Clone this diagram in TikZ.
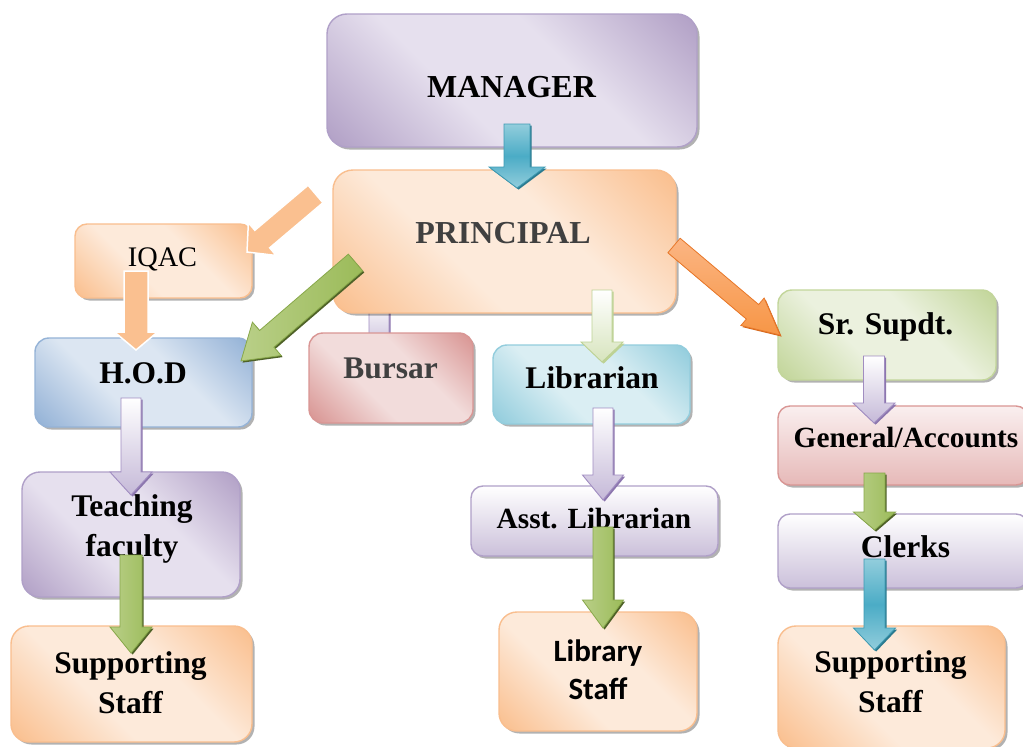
\documentclass[tikz,border=0pt]{standalone}
\usepackage{fontspec}
\setmainfont{Liberation Serif}
\newfontfamily\carlito{Carlito}
\usetikzlibrary{calc,shadows}
\pgfdeclarelayer{bg}
\pgfsetlayers{bg,main}

\definecolor{bxdark}{HTML}{B3A2C7}
\definecolor{bxlight}{HTML}{E5E0EC}
\pgfdeclarehorizontalshading[bxdark,bxlight]{diagbox}{100bp}{color(0bp)=(bxdark); color(16bp)=(bxdark); color(40bp)=(bxlight); color(60bp)=(bxlight); color(84bp)=(bxdark); color(100bp)=(bxdark)}

\definecolor{lavD}{HTML}{B3A2C7}\definecolor{lavL}{HTML}{E6E0EE}\definecolor{lavB}{HTML}{B0A0C8}
\definecolor{peaD}{HTML}{FAC090}\definecolor{peaL}{HTML}{FDEADA}\definecolor{peaB}{HTML}{F9BE8E}
\definecolor{bluD}{HTML}{95B3D7}\definecolor{bluL}{HTML}{DCE6F2}\definecolor{bluB}{HTML}{95B3D7}
\definecolor{pnkD}{HTML}{D99694}\definecolor{pnkL}{HTML}{F2DCDB}\definecolor{pnkB}{HTML}{D99694}
\definecolor{cyaD}{HTML}{93CDDD}\definecolor{cyaL}{HTML}{DAEEF3}\definecolor{cyaB}{HTML}{93CDDD}
\definecolor{grnD}{HTML}{C3D69B}\definecolor{grnL}{HTML}{EBF1DE}\definecolor{grnB}{HTML}{C3D69B}
\definecolor{genT}{HTML}{FAEFEF}\definecolor{genB}{HTML}{E6B9B8}
\definecolor{clkB}{HTML}{CBC0DA}
\definecolor{txtgray}{HTML}{404040}
\definecolor{tealL}{HTML}{92CDDC}\definecolor{tealM}{HTML}{4BACC6}\definecolor{tealB}{HTML}{3D9AB3}\definecolor{tealS}{HTML}{2B7A8F}
\definecolor{lavaB}{HTML}{A18DC1}\definecolor{lavaS}{HTML}{8C76AE}\definecolor{lavaE}{HTML}{C5B9D8}
\definecolor{graL}{HTML}{B9CF88}\definecolor{graM}{HTML}{9BBB59}\definecolor{graB}{HTML}{88A84A}\definecolor{graS}{HTML}{4F6228}
\definecolor{lorF}{HTML}{FAC090}
\definecolor{orL}{HTML}{FBB583}\definecolor{orM}{HTML}{F79646}\definecolor{orB}{HTML}{E8782A}\definecolor{orS}{HTML}{D4661A}
\definecolor{lgE}{HTML}{D7E4BD}\definecolor{lgB}{HTML}{BDD294}

% [style]{start}{tip}{half shaft}{half head}{head length}
\newcommand\blockarrow[6][]{%
  \path[#1] ($(#2)!#4!90:(#3)$)
    -- ($(#3)!#6!(#2)!#4!90:(#3)$)
    -- ($(#3)!#6!(#2)!#5!90:(#3)$)
    -- (#3)
    -- ($(#3)!#6!(#2)!#5!-90:(#3)$)
    -- ($(#3)!#6!(#2)!#4!-90:(#3)$)
    -- ($(#2)!#4!-90:(#3)$) -- cycle;}

\tikzset{
  bxbase/.style={rectangle, rounded corners=14pt, line width=1.4pt, inner sep=0pt, outer sep=0pt,
    drop shadow={shadow xshift=2.5pt, shadow yshift=-2.5pt, opacity=0.3, fill=black}},
  dbox/.style n args={3}{bxbase, draw=#3,
    /utils/exec={\colorlet{bxdark}{#1}\colorlet{bxlight}{#2}}, shading=diagbox, shading angle=45},
  vbox/.style n args={3}{bxbase, draw=#3, top color=#1, bottom color=#2},
  lbl/.style={font=\fontsize{31.5}{40}\selectfont\bfseries, align=center, inner sep=0pt},
  sl/.style={text height=21pt, text depth=7pt},
  arrshadow/.style={preaction={fill=#1, transform canvas={shift={(1.6pt,-1.6pt)}}}},
  tealar/.style={arrshadow=tealS, draw=tealB, line width=0.8pt, top color=tealL, bottom color=tealL, middle color=tealM},
  lavar/.style={arrshadow=lavaS, draw=lavaB, line width=0.9pt, top color=white, bottom color=lavaE},
  grnar/.style={arrshadow=graS, draw=graB, line width=0.8pt, left color=graL, right color=graM},
  lorar/.style={fill=lorF, draw=white, line width=1.5pt},
  orar/.style={arrshadow=orS, draw=orB, line width=0.8pt, top color=orL, bottom color=orM},
  lgar/.style={arrshadow=lgB, draw=lgB, line width=0.9pt, top color=white, bottom color=lgE},
}

\begin{document}
\begin{tikzpicture}[x=1pt,y=-1pt]
\useasboundingbox (0,0) rectangle (1023,747);

% boxes
\node[dbox={lavD}{lavL}{lavB}, rounded corners=20pt, minimum width=370pt, minimum height=133pt] (mgr) at (512,80.5) {};
\node[dbox={peaD}{peaL}{peaB}, rounded corners=20pt, minimum width=343pt, minimum height=143pt] (prin) at (504.5,241.5) {};
\node[dbox={peaD}{peaL}{peaB}, rounded corners=12pt, minimum width=177pt, minimum height=74pt] (iqac) at (163.5,261) {};
\node[dbox={bluD}{bluL}{bluB}, minimum width=217pt, minimum height=89pt] (hod) at (143.5,382.5) {};
\node[dbox={pnkD}{pnkL}{pnkB}, minimum width=164pt, minimum height=90pt] (bursar) at (391,378) {};
\node[dbox={cyaD}{cyaL}{cyaB}, minimum width=197pt, minimum height=79pt] (lib) at (591.5,384.5) {};
\node[dbox={grnD}{grnL}{grnB}, minimum width=218pt, minimum height=90pt] (supdt) at (887,335) {};
\node[vbox={genT}{genB}{pnkB}, rounded corners=12pt, minimum width=250pt, minimum height=79pt] (gen) at (903,445.5) {};
\node[vbox={white}{clkB}{lavB}, rounded corners=12pt, minimum width=250pt, minimum height=74pt] (clerks) at (903,551) {};
\node[dbox={peaD}{peaL}{peaB}, rounded corners=18pt, minimum width=227pt, minimum height=122pt] (ssR) at (891.5,687) {};
\node[dbox={lavD}{lavL}{lavB}, rounded corners=18pt, minimum width=218pt, minimum height=125pt] (teach) at (131,534.5) {};
\node[dbox={peaD}{peaL}{peaB}, rounded corners=18pt, minimum width=241pt, minimum height=116pt] (ssL) at (131.5,684) {};
\node[vbox={white}{clkB}{lavB}, rounded corners=12pt, minimum width=247pt, minimum height=70pt] (asst) at (594.5,521) {};
\node[dbox={peaD}{peaL}{peaB}, rounded corners=18pt, minimum width=198pt, minimum height=119pt] (libst) at (598,671.5) {};

% texts
\node[lbl, sl, font=\fontsize{32}{40}\selectfont\bfseries] (mgrt) at (511.5,90) {MANAGER};
\node[lbl, sl, font=\fontsize{32}{40}\selectfont\bfseries, text=txtgray] (print) at (503,236) {PRINCIPAL};
\node[lbl, sl, font=\fontsize{28.3}{36}\selectfont] (iqact) at (162.5,259.5) {IQAC};
\node[lbl, sl] (hodt) at (143,376) {H.O.D};
\node[lbl, sl, text=txtgray] (burt) at (390.5,371) {Bursar};
\node[lbl, sl] (libt) at (592,381) {Librarian};
\node[lbl, sl] (supt) at (885.5,327) {Sr. Supdt.};
\node[lbl, sl, font=\fontsize{29.3}{40}\selectfont\bfseries] (gent) at (906,440.5) {General/Accounts};
\node[lbl, sl] (clkt) at (905.5,550.5) {Clerks};
\node[lbl] (ssRt) at (890.5,682) {Supporting\\Staff};
\node[lbl] (teacht) at (132,529) {Teaching\\faculty};
\node[lbl] (ssLt) at (130.5,683) {Supporting\\Staff};
\node[lbl, sl, font=\fontsize{29.3}{40}\selectfont\bfseries] (asstt) at (594,521) {Asst. Librarian};
\node[lbl, font=\fontsize{31}{38}\selectfont\carlito\bfseries] (libstt) at (598,669.5) {Library\\Staff};

% connector end points
\coordinate (a1s) at ($(mgr.south)+(5,-23)$);
\coordinate (a1t) at ($(prin.north)+(12.5,18)$);
\coordinate (a2s) at ($(prin.west)+(-17.5,-47.5)$);
\coordinate (a2t) at ($(iqac.east)+(-5,-9)$);
\coordinate (a3s) at ($(iqac.south)+(-27.5,-27)$);
\coordinate (a3t) at ($(hod.north)+(-7.5,12)$);
\coordinate (a4s) at ($(prin.west)+(22.5,21)$);
\coordinate (a4t) at ($(hod.east)+(-11,-21.5)$);
\coordinate (a5s) at ($(prin.south)+(-125.5,-13)$);
\coordinate (a5t) at ($(bursar.north)+(-12,19)$);
\coordinate (a6s) at ($(prin.south)+(97.5,-23)$);
\coordinate (a6t) at ($(lib.north)+(10.5,17)$);
\coordinate (a7s) at ($(prin.east)+(-2,4)$);
\coordinate (a7t) at ($(supdt.west)+(2,0)$);
\coordinate (a8s) at ($(hod.south)+(-12.5,-29)$);
\coordinate (a8t) at ($(teach.north)+(0,23)$);
\coordinate (a9s) at ($(teach.south)+(0,-42)$);
\coordinate (a9t) at ($(ssL.north)+(-0.5,27)$);
\coordinate (a10s) at ($(supdt.south)+(-13,-24)$);
\coordinate (a10t) at ($(gen.north)+(-29,17)$);
\coordinate (a11s) at ($(gen.south)+(-28.5,-12)$);
\coordinate (a11t) at ($(clerks.north)+(-28.5,16)$);
\coordinate (a12s) at ($(clerks.south)+(-28.5,-29)$);
\coordinate (a12t) at ($(ssR.north)+(-17,24)$);
\coordinate (a13s) at ($(lib.south)+(11.5,-16)$);
\coordinate (a13t) at ($(asst.north)+(8.5,14)$);
\coordinate (a14s) at ($(asst.south)+(8.5,-29)$);
\coordinate (a14t) at ($(libst.north)+(5,16)$);

% background and the connector hidden behind boxes
\begin{pgfonlayer}{bg}
\fill[white] (0,0) rectangle (1023,747);
\blockarrow[lavar]{a5s}{a5t}{10pt}{20pt}{15pt}
\end{pgfonlayer}

% connectors
\blockarrow[tealar]{a1s}{a1t}{13pt}{28pt}{21pt}
\blockarrow[lorar]{a2s}{a2t}{11.5pt}{21.5pt}{20pt}
\blockarrow[lorar]{a3s}{a3t}{12pt}{21.5pt}{18pt}
\blockarrow[grnar]{a4s}{a4t}{11pt}{22pt}{34pt}
\blockarrow[lgar]{a6s}{a6t}{10pt}{21pt}{20pt}
\blockarrow[orar]{a7s}{a7t}{9.5pt}{18pt}{36pt}
\blockarrow[lavar]{a8s}{a8t}{10pt}{21pt}{23pt}
\blockarrow[grnar]{a9s}{a9t}{11pt}{21pt}{26pt}
\blockarrow[lavar]{a10s}{a10t}{10.5pt}{21pt}{20pt}
\blockarrow[grnar]{a11s}{a11t}{10.5pt}{21pt}{18pt}
\blockarrow[tealar]{a12s}{a12t}{10.5pt}{21pt}{22pt}
\blockarrow[lavar]{a13s}{a13t}{10pt}{20.5pt}{25pt}
\blockarrow[grnar]{a14s}{a14t}{10pt}{20.5pt}{28pt}
\end{tikzpicture}
\end{document}
